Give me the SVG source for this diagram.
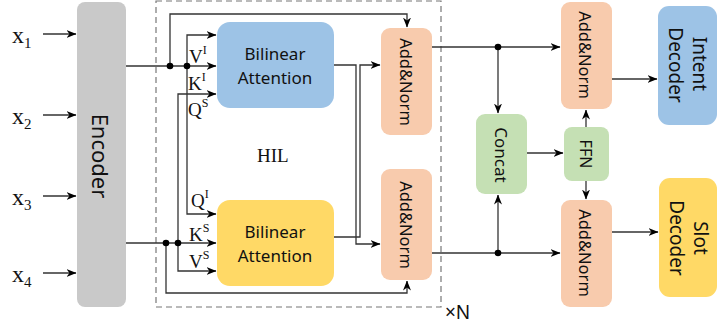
<svg xmlns="http://www.w3.org/2000/svg" width="720" height="325" viewBox="0 0 720 325">
  <style>
    .box { stroke: none; }
    .lbl { font-family: "Noto Sans", "Open Sans", "DejaVu Sans", sans-serif; fill: #111; text-anchor: middle; dominant-baseline: central; }
    .ser { font-family: "Liberation Serif", "DejaVu Serif", serif; fill: #111; }
    .wire { fill: none; stroke: #333; stroke-width: 1.3; }
    .arr { marker-end: url(#ah); }
    .dot { fill: #000; }
  </style>
  <defs>
    <marker id="ah" viewBox="0 0 10 8" refX="9.5" refY="4" markerWidth="10" markerHeight="8" markerUnits="userSpaceOnUse" orient="auto">
      <path d="M0,0 L10,4 L0,8 L3,4 z" fill="#000"/>
    </marker>
  </defs>

  <rect id="hil-frame" x="156" y="1" width="285" height="306" fill="none" stroke="#777" stroke-width="1.2" stroke-dasharray="6,4"/>

  <!-- inputs -->
  <g id="inputs">
    <text class="ser" x="12" y="43" font-size="24">x<tspan font-size="15" dy="5">1</tspan></text>
    <text class="ser" x="12" y="124" font-size="24">x<tspan font-size="15" dy="5">2</tspan></text>
    <text class="ser" x="12" y="205" font-size="24">x<tspan font-size="15" dy="5">3</tspan></text>
    <text class="ser" x="12" y="282" font-size="24">x<tspan font-size="15" dy="5">4</tspan></text>
  </g>

  <g id="encoder">
    <rect class="box" x="77" y="2" width="49" height="305" rx="8" fill="#c9c9c9"/>
    <text class="lbl" transform="translate(101,156) rotate(90)" font-size="22">Encoder</text>
  </g>

  <g id="bilinear-intent">
    <rect class="box" x="217" y="22" width="117" height="86" rx="13" fill="#9dc3e6"/>
    <text class="lbl" x="275" y="53.5" font-size="17">Bilinear</text>
    <text class="lbl" x="275" y="77" font-size="17">Attention</text>
  </g>

  <g id="bilinear-slot">
    <rect class="box" x="217" y="200" width="117" height="86" rx="13" fill="#ffd966"/>
    <text class="lbl" x="275" y="231.5" font-size="17">Bilinear</text>
    <text class="lbl" x="275" y="255" font-size="17">Attention</text>
  </g>

  <g id="addnorm-1">
    <rect class="box" x="381" y="28" width="51" height="107" rx="9" fill="#f8cbad"/>
    <text class="lbl" transform="translate(406,82) rotate(90)" font-size="16.5">Add&amp;Norm</text>
  </g>

  <g id="addnorm-2">
    <rect class="box" x="381" y="169" width="51" height="111" rx="9" fill="#f8cbad"/>
    <text class="lbl" transform="translate(406,225) rotate(90)" font-size="16.5">Add&amp;Norm</text>
  </g>

  <g id="concat">
    <rect class="box" x="476" y="114" width="51" height="80" rx="9" fill="#c5e0b4"/>
    <text class="lbl" transform="translate(501,155) rotate(90)" font-size="17">Concat</text>
  </g>

  <g id="ffn">
    <rect class="box" x="564" y="127" width="45" height="54" rx="8" fill="#c5e0b4"/>
    <text class="lbl" transform="translate(586,154) rotate(90)" font-size="16">FFN</text>
  </g>

  <g id="addnorm-3">
    <rect class="box" x="561" y="2" width="51" height="107" rx="9" fill="#f8cbad"/>
    <text class="lbl" transform="translate(585,55) rotate(90)" font-size="16.5">Add&amp;Norm</text>
  </g>

  <g id="addnorm-4">
    <rect class="box" x="561" y="200" width="51" height="107" rx="9" fill="#f8cbad"/>
    <text class="lbl" transform="translate(585,253) rotate(90)" font-size="16.5">Add&amp;Norm</text>
  </g>

  <g id="intent-decoder">
    <rect class="box" x="658" y="6" width="59" height="119" rx="11" fill="#9dc3e6"/>
    <text class="lbl" transform="translate(700,64) rotate(90)" font-size="19">Intent</text>
    <text class="lbl" transform="translate(676,65) rotate(90)" font-size="19">Decoder</text>
  </g>

  <g id="slot-decoder">
    <rect class="box" x="659" y="178" width="58" height="119" rx="11" fill="#ffd966"/>
    <text class="lbl" transform="translate(701,238) rotate(90)" font-size="19">Slot</text>
    <text class="lbl" transform="translate(677,238) rotate(90)" font-size="19">Decoder</text>
  </g>

  <g id="connectors">
    <!-- inputs to encoder -->
    <path class="wire arr" d="M43,34 H76"/>
    <path class="wire arr" d="M43,115 H76"/>
    <path class="wire arr" d="M43,196 H76"/>
    <path class="wire arr" d="M43,273 H76"/>

    <!-- intent stream -->
    <path class="wire arr" d="M126,66 H216"/>
    <path class="wire arr" d="M170,66 V14 H407 V27"/>
    <path class="wire arr" d="M187,66 V35 H216"/>
    <path class="wire arr" d="M187,66 V214 H216"/>

    <!-- slot stream -->
    <path class="wire arr" d="M126,243 H216"/>
    <path class="wire arr" d="M166,243 V293 H407 V281"/>
    <path class="wire arr" d="M178,243 V271 H216"/>
    <path class="wire arr" d="M178,243 V94 H216"/>

    <!-- crossed attention outputs -->
    <path class="wire arr" d="M334,65 H356 V244 H380"/>
    <path class="wire arr" d="M334,237 H360 V65 H380"/>

    <!-- to concat and second stage -->
    <path class="wire arr" d="M432,47 H560"/>
    <path class="wire arr" d="M498,47 V113"/>
    <path class="wire arr" d="M432,253 H560"/>
    <path class="wire arr" d="M498,253 V195"/>
    <path class="wire arr" d="M527,153 H563"/>
    <path class="wire arr" d="M586,127 V110"/>
    <path class="wire arr" d="M586,181 V199"/>
    <path class="wire arr" d="M612,79 H657"/>
    <path class="wire arr" d="M612,232 H658"/>

    <circle class="dot" cx="170" cy="66" r="3.3"/>
    <circle class="dot" cx="187" cy="66" r="3.3"/>
    <circle class="dot" cx="166" cy="243" r="3.3"/>
    <circle class="dot" cx="178" cy="243" r="3.3"/>
    <circle class="dot" cx="498" cy="47" r="3.3"/>
    <circle class="dot" cx="498" cy="253" r="3.3"/>
  </g>

  <!-- port labels -->
  <g id="port-labels" class="ser" font-size="19">
    <text x="189" y="63">V<tspan font-size="12" dy="-9">I</tspan></text>
    <text x="188" y="90">K<tspan font-size="12" dy="-9">I</tspan></text>
    <text x="188" y="116">Q<tspan font-size="12" dy="-9">S</tspan></text>
    <text x="191" y="207">Q<tspan font-size="12" dy="-9">I</tspan></text>
    <text x="189" y="241">K<tspan font-size="12" dy="-9">S</tspan></text>
    <text x="189" y="268">V<tspan font-size="12" dy="-9">S</tspan></text>
  </g>

  <text id="hil-label" class="ser" x="257" y="162" font-size="19">HIL</text>
  <text id="repeat-label" x="445" y="319" font-family="Noto Sans, DejaVu Sans, sans-serif" font-size="19" fill="#111">×N</text>
</svg>
